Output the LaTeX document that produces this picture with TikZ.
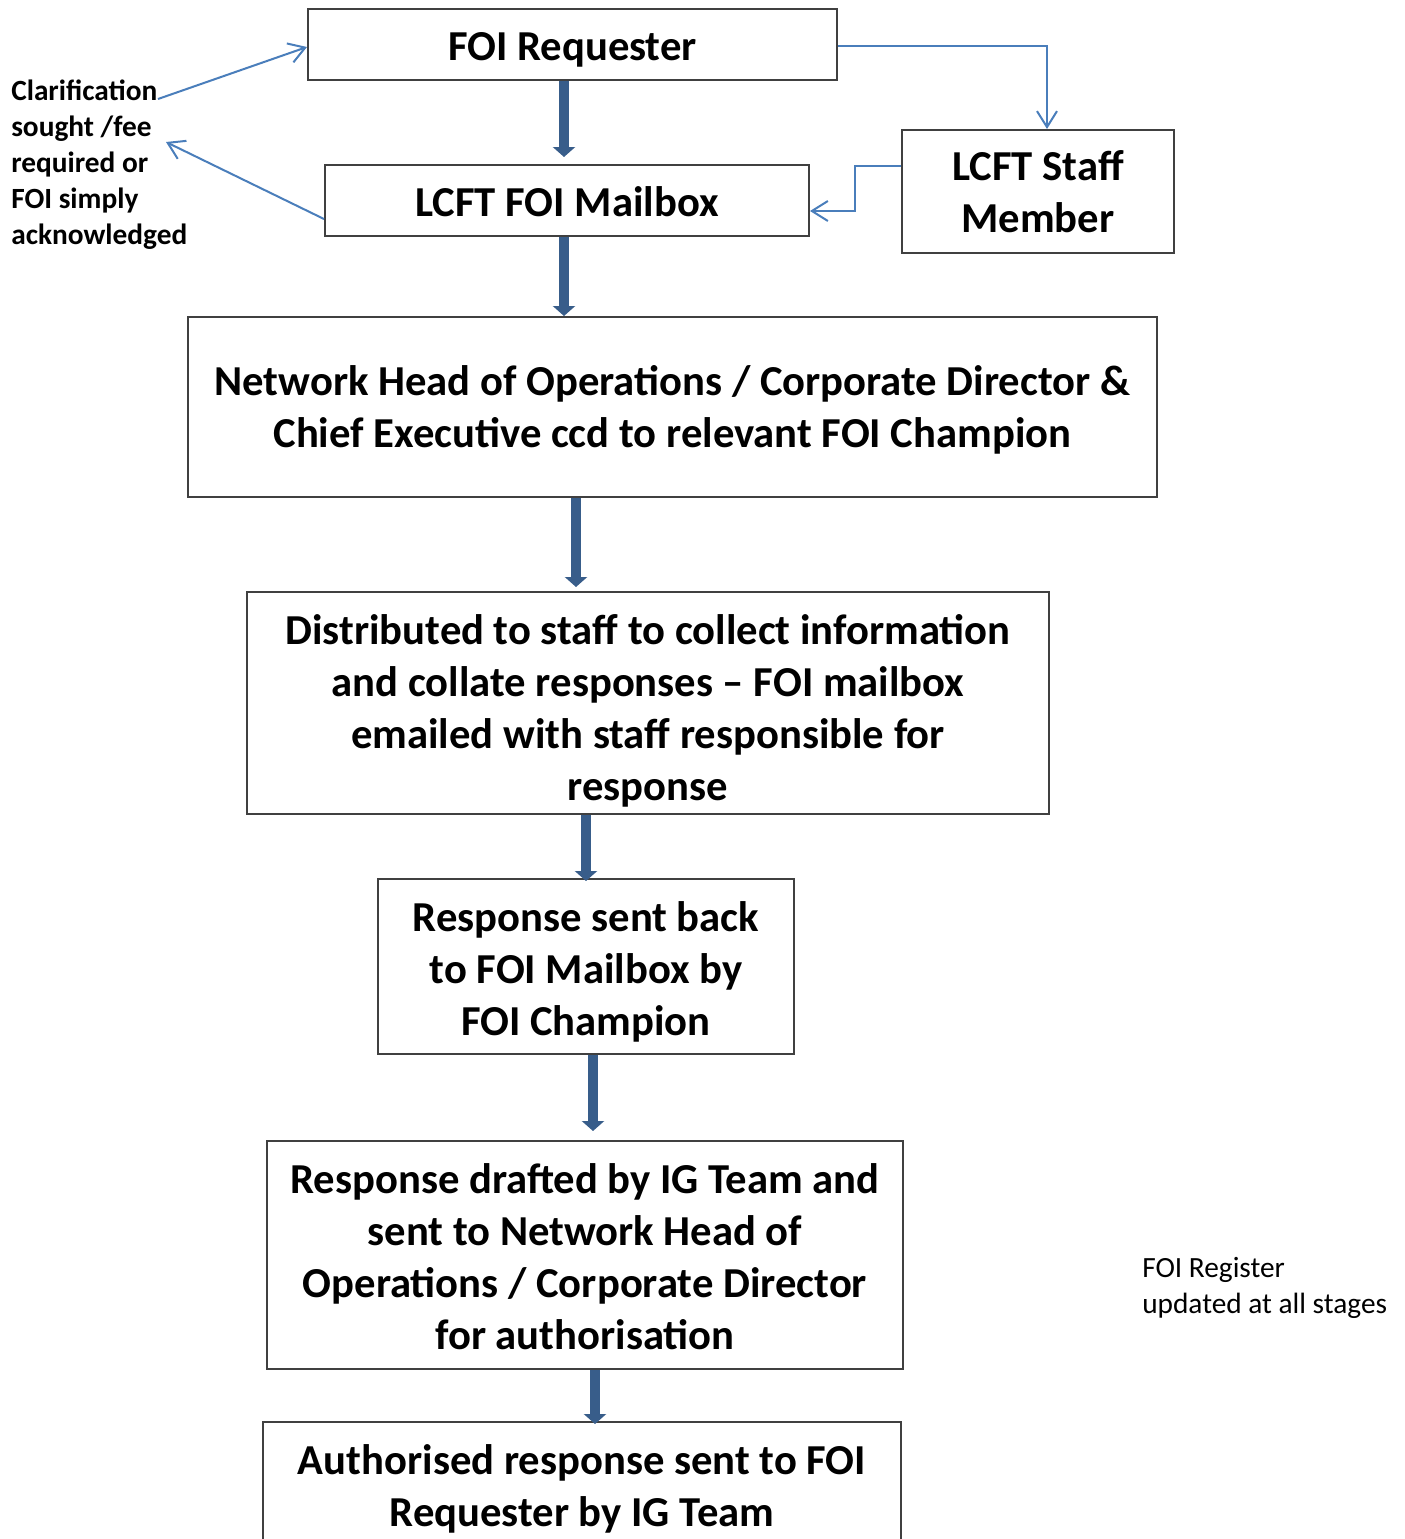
\documentclass[tikz,border=0pt]{standalone}
\usepackage{fontspec}
\setmainfont{Carlito}
\usetikzlibrary{arrows.meta,calc}
\newdimen\pxu \pxu=0.75pt
\definecolor{boxline}{RGB}{64,64,64}
\definecolor{fatblue}{RGB}{56,93,138}
\definecolor{thinblue}{RGB}{74,126,187}
\tikzset{
  stepbox/.style={draw=boxline, line width=1.5pt, fill=white, inner sep=0pt},
  steptext/.style={align=center, inner sep=0pt,
    font=\fontsize{32pt}{39pt}\selectfont\bfseries},
  fatarrow/.style={draw=fatblue, line width=7.5pt, -{Triangle[width=16.5pt,length=7.5pt]}},
  thinarrow/.style={draw=thinblue, line width=1.5pt, -{Straight Barb[length=12pt,width=15pt]}},
  noteS/.style={align=left, inner sep=0pt, anchor=north west, font=\fontsize{22pt}{27pt}\selectfont},
}
\begin{document}
\begin{tikzpicture}[x=0.75pt,y=-0.75pt]
\useasboundingbox (0,0) rectangle (1405,1539);
\clip (0,0) rectangle (1405,1539);
\fill[white] (0,0) rectangle (1405,1539);

\node[stepbox, minimum width=529\pxu, minimum height=71\pxu] (req) at (572.5,44.5) {};
\node[steptext] (reqT) at (572.5,49.5) {FOI Requester};
\node[stepbox, minimum width=484\pxu, minimum height=71\pxu] (mb) at (567,200.5) {};
\node[steptext] (mbT) at (567,201.5) {LCFT FOI Mailbox};
\node[stepbox, minimum width=272\pxu, minimum height=123\pxu] (staff) at (1038,191.5) {};
\node[steptext] (staffT) at (1038,191.5) {LCFT Staff\\Member};
\node[stepbox, minimum width=969\pxu, minimum height=180\pxu] (net) at (672.5,407) {};
\node[steptext] (netT) at (672.5,410) {Network Head of Operations / Corporate Director \&\\Chief Executive ccd to relevant FOI Champion};
\node[stepbox, minimum width=802\pxu, minimum height=222\pxu] (dist) at (648,703) {};
\node[steptext] (distT) at (648,711) {Distributed to staff to collect information\\and collate responses – FOI mailbox\\emailed with staff responsible for\\response};
\node[stepbox, minimum width=416\pxu, minimum height=175\pxu] (resp) at (586,966.5) {};
\node[steptext] (respT) at (586,971.5) {Response sent back\\to FOI Mailbox by\\FOI Champion};
\node[stepbox, minimum width=636\pxu, minimum height=228\pxu] (draft) at (585,1255) {};
\node[steptext] (draftT) at (585,1257) {Response drafted by IG Team and\\sent to Network Head of\\Operations / Corporate Director\\for authorisation};
\node[stepbox, minimum width=638\pxu, minimum height=140\pxu] (auth) at (582,1492) {};
\node[steptext] (authT) at (582,1489) {Authorised response sent to FOI\\Requester by IG Team};

\node[noteS, font=\fontsize{22pt}{27pt}\selectfont\bfseries] (clar) at (11,80) {Clarification\\sought /fee\\required or\\FOI simply\\acknowledged};
\node[noteS] (reg) at (1142,1257) {FOI Register\\updated at all stages};

\draw[fatarrow] (req.south -| 564,0) -- (564,157);
\draw[fatarrow] (mb.south -| 564,0) -- (net.north -| 564,0);
\draw[fatarrow] (net.south -| 576,0) -- (576,587);
\draw[fatarrow] (dist.south -| 586,0) -- (586,881);
\draw[fatarrow] (resp.south -| 593,0) -- (593,1131);
\draw[fatarrow] (draft.south -| 595,0) -- (595,1424);

\draw[thinarrow] (req.east |- 0,46) -| (1047,129);
\draw[thinarrow] (staff.west |- 0,166) -- (855,166) |- (mb.east |- 0,211);
\coordinate (c1) at (158,99);
\coordinate (c2) at (166,142);
\draw[thinarrow] (c1) -- (req.west |- 0,47);
\draw[thinarrow] (mb.west |- 0,219) -- (c2);
\end{tikzpicture}
\end{document}
